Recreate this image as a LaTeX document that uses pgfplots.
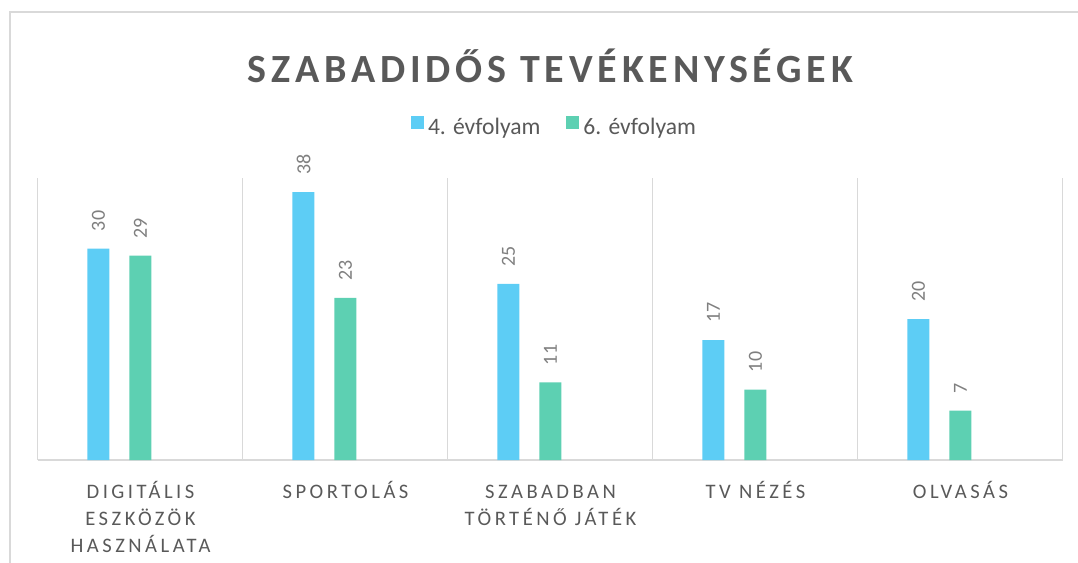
\documentclass[border=0pt]{standalone}
\usepackage{pgfplots}
\pgfplotsset{compat=1.18}
\usepackage{fontspec}
\setmainfont{Carlito}
\newfontfamily\titlefont[LetterSpace=12]{Carlito}
\newfontfamily\catfont[LetterSpace=17]{Carlito}
\definecolor{cBlue}{HTML}{5DCDF5}
\definecolor{cGreen}{HTML}{5DD0B2}
\definecolor{cGrid}{HTML}{D9D9D9}
\definecolor{cText}{HTML}{595959}
\definecolor{cLabel}{HTML}{7F7F7F}
\newcommand\fs{\rule{0pt}{9pt}}

\begin{document}
\begin{tikzpicture}
\useasboundingbox (0,0) rectangle (539pt,-281.5pt);
% chart frame (left and top edge only, as in the screenshot)
\draw[cGrid, line width=0.75pt] (5pt,-281.5pt) |- (539pt,-6pt);
\begin{axis}[
  at={(19pt,-230pt)}, anchor=south west,
  scale only axis, width=512.5pt, height=141pt,
  ybar, bar width=11pt,
  xmin=-0.5, xmax=4.5, ymin=0, ymax=40,
  axis line style={draw=none},
  ytick=\empty,
  xtick={0,...,4},
  xticklabels={{\fs DIGITÁLIS\\ESZKÖZÖK\\HASZNÁLATA}, {\fs SPORTOLÁS}, {\fs SZABADBAN\\TÖRTÉNŐ JÁTÉK}, {\fs TV NÉZÉS}, {\fs OLVASÁS}},
  minor xtick={-0.5,0.5,...,4.5},
  xminorgrids, minor grid style={cGrid, line width=0.5pt},
  major tick length=0pt, minor tick length=0pt,
  extra y ticks={0}, extra y tick labels={},
  extra y tick style={grid=major, major grid style={cGrid, line width=0.75pt}},
  xticklabel style={font=\catfont\fontsize{10.3}{13.5}\selectfont, text=cText, align=center, anchor=north, inner sep=0pt, yshift=-10pt},
  title={\titlefont\bfseries SZABADIDŐS TEVÉKENYSÉGEK},
  title style={font=\fontsize{20}{24}\selectfont, text=cText, at={(0.5,1)}, anchor=base, yshift=42pt, inner sep=0pt},
  legend style={draw=none, fill=none, at={(0.5,1)}, anchor=center, xshift=2.5pt, yshift=25pt, legend columns=-1,
    font=\fontsize{11.8}{14}\selectfont, text=cText,
    /tikz/every even column/.append style={column sep=11pt}},
  legend image code/.code={\fill[#1] (0pt,-0.3pt) rectangle (6.5pt,6.2pt);},
  /pgf/number format/assume math mode=true,
  nodes near coords,
  every node near coord/.append style={font=\fontsize{10}{12}\selectfont, text=cLabel, rotate=90, anchor=west, inner xsep=8.5pt, inner ysep=0pt},
]
\addplot[fill=cBlue, draw=none, bar shift=-21pt] coordinates {(0,30) (1,38) (2,25) (3,17) (4,20)};
\addplot[fill=cGreen, draw=none, bar shift=0pt] coordinates {(0,29) (1,23) (2,11) (3,10) (4,7)};
\legend{4. évfolyam, 6. évfolyam}
\end{axis}
\end{tikzpicture}
\end{document}
